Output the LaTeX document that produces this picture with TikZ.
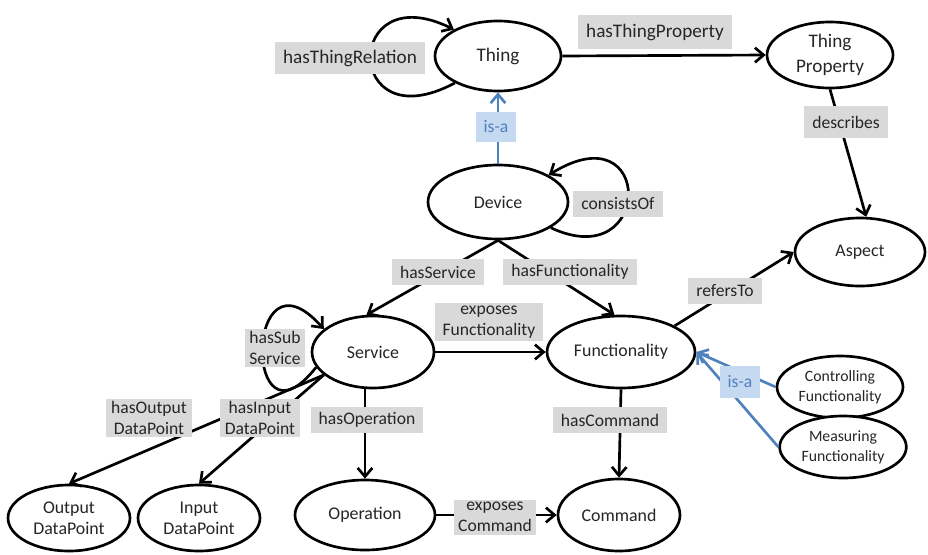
\documentclass[tikz,border=0pt]{standalone}
\usepackage{fontspec}
\setmainfont{Carlito}
\usetikzlibrary{arrows.meta,shapes.geometric}
\definecolor{ink}{HTML}{262626}
\definecolor{lblgray}{HTML}{D9D9D9}
\definecolor{isablue}{HTML}{4F81BD}
\definecolor{isafill}{HTML}{C5D9F1}
\begin{document}
\begin{tikzpicture}[x=0.75pt,y=-0.75pt,
  cls/.style={ellipse, draw=black, line width=2pt, fill=white, inner sep=0pt,
    align=center, text=ink, font=\fontsize{13.4}{15.75}\selectfont},
  relbox/.style={fill=lblgray, inner xsep=6pt, inner ysep=2pt, minimum height=19.5pt,
    align=center, text=ink, font=\fontsize{13.2}{15.75}\selectfont},
  isabox/.style={relbox, fill=isafill, text=isablue},
  bigtext/.style={font=\fontsize{14.4}{18.75}\selectfont},
  smalltext/.style={font=\fontsize{11.8}{15}\selectfont},
  edgeline/.style={draw=black, line width=2pt, -{Straight Barb[length=6.5pt,width=11pt]}},
  isa/.style={edgeline, draw=isablue},
]
\useasboundingbox (0,0) rectangle (928,554);

% classes
\node[cls, bigtext, minimum width=94.5pt, minimum height=52.5pt] (thing) at (498,56) {Thing};
\node[cls, bigtext, minimum width=94.5pt, minimum height=49.5pt] (tprop) at (830,55) {Thing\\Property};
\node[cls, minimum width=97.5pt, minimum height=51pt] (aspect) at (860,252) {Aspect};
\node[cls, minimum width=105pt, minimum height=55.5pt] (device) at (498,202) {Device};
\node[cls, minimum width=91.5pt, minimum height=54pt] (service) at (373,352) {Service};
\node[cls, minimum width=111pt, minimum height=54pt] (func) at (621,352) {Functionality};
\node[cls, smalltext, minimum width=94.5pt, minimum height=46.5pt] (ctrl) at (840,387) {Controlling\\Functionality};
\node[cls, smalltext, minimum width=95pt, minimum height=46.5pt] (meas) at (843,447) {Measuring\\Functionality};
\node[cls, minimum width=91.5pt, minimum height=49.5pt] (outdp) at (69,518) {Output\\DataPoint};
\node[cls, minimum width=91.5pt, minimum height=49.5pt] (indp) at (199,518) {Input\\DataPoint};
\node[cls, minimum width=105pt, minimum height=52.5pt] (oper) at (365,515) {Operation};
\node[cls, minimum width=91.5pt, minimum height=54pt] (command) at (619,515) {Command};

% relations
\draw[edgeline] (thing.212) .. controls +(-112,60) and +(-111,-55) .. (thing.149);
\draw[edgeline] (thing.east) -- (tprop.west);
\draw[edgeline] (tprop.south) -- (aspect.80);
\draw[isa] (device.north) -- (thing.south);
\draw[edgeline] (device.334) .. controls +(103,48) and +(106,-66) .. (device.28);
\draw[edgeline] (device.south) -- (service.100);
\draw[edgeline] (device.south) -- (func.100);
\draw[edgeline] (service.195) .. controls +(-73,93) and +(-80,-90) .. (service.155);
\draw[edgeline] (service.east) -- (func.west);
\draw[edgeline] (service.205) -- (outdp.north);
\draw[edgeline] (service.205) -- (indp.north);
\draw[edgeline] (oper.north |- service.south) -- (oper.north);
\draw[edgeline] (func.south) -- (command.north);
\draw[edgeline] (oper.east) -- (command.west);
\draw[edgeline] (func.26) -- (aspect.west);
\draw[isa] (ctrl.west) -- (func.east);
\draw[isa] (meas.west) -- (func.east);

% relation labels
\node[relbox, bigtext, minimum height=24pt] (lThingRel) at (350,58) {hasThingRelation};
\node[relbox, bigtext, minimum height=26pt] (lThingProp) at (655,32) {hasThingProperty};
\node[relbox, minimum height=24pt] (lDescribes) at (846,122) {describes};
\node[isabox, minimum height=23pt] (lIsaThing) at (496,127) {is-a};
\node[relbox] (lConsists) at (618,204) {consistsOf};
\node[relbox] (lHasService) at (438,272) {hasService};
\node[relbox] (lHasFunc) at (570,272) {hasFunctionality};
\node[relbox] (lExpFunc) at (489,322) {exposes\\Functionality};
\node[relbox, inner xsep=3pt] (lSubService) at (275,348) {hasSub\\Service};
\node[relbox] (lHasOper) at (367,420) {hasOperation};
\node[relbox, inner xsep=4pt] (lOutDP) at (149,418) {hasOutput\\DataPoint};
\node[relbox, inner xsep=4pt] (lInDP) at (260,418) {hasInput\\DataPoint};
\node[relbox] (lHasCmd) at (610,420) {hasCommand};
\node[relbox] (lRefers) at (725,291) {refersTo};
\node[isabox, minimum height=24pt] (lIsaFunc) at (740,382) {is-a};
\node[relbox, inner xsep=3pt] (lExpCmd) at (495,517) {exposes\\Command};
\end{tikzpicture}
\end{document}
